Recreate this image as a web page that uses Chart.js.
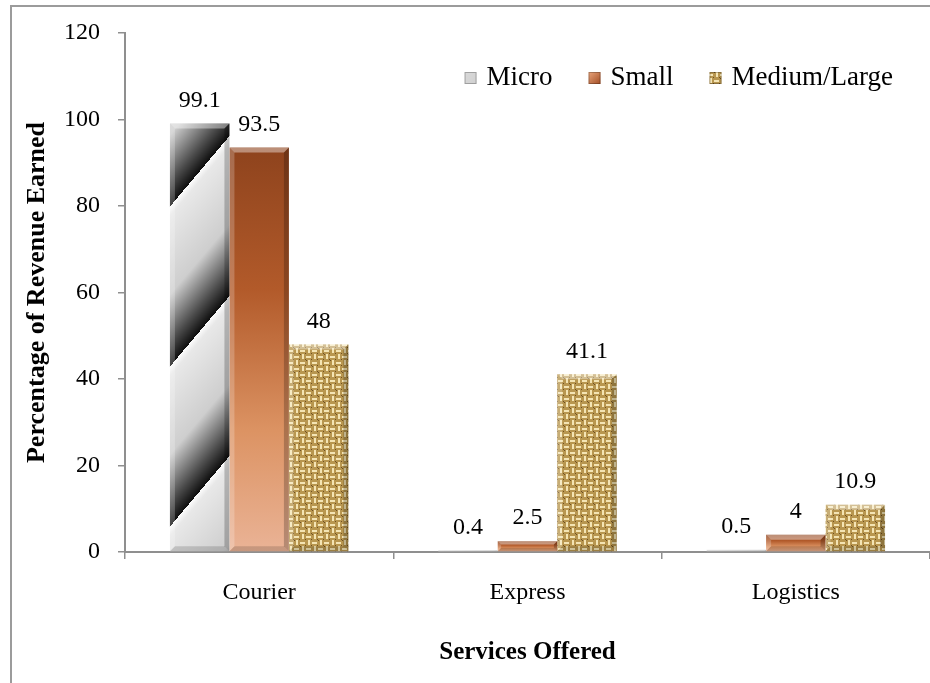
<!DOCTYPE html>
<html>
<head>
<meta charset="utf-8">
<script src="https://cdn.jsdelivr.net/npm/chart.js@4.4.1/dist/chart.umd.min.js"></script>
<style>
html, body { margin: 0; padding: 0; background: #fff; overflow: hidden; }
#wrap { position: relative; width: 930px; height: 683px; overflow: hidden; }
#frame { position: absolute; left: 10px; top: 5px; width: 960px; height: 720px;
         border-left: 2px solid #9b9b9b; border-top: 2px solid #9b9b9b; pointer-events: none; }
canvas { position: absolute; left: 0; top: 0; }
</style>
</head>
<body>
<div id="wrap">
    <canvas id="chart" width="930" height="683"></canvas>
    <div id="frame"></div>
</div>
<script>
// data
const categories = ["Courier", "Express", "Logistics"];
const seriesNames = ["Micro", "Small", "Medium/Large"];
const microValues = [99.1, 0.4, 0.5];
const smallValues = [93.5, 2.5, 4];
const mediumLargeValues = [48, 41.1, 10.9];
const yTicks = [0, 20, 40, 60, 80, 100, 120];

const serif = "'Liberation Serif', 'Times New Roman', serif";

// =============================
// fills
// =============================
function makeMicroPattern(ctx) {
    const W = 135, H = 160;
    const c = document.createElement("canvas");
    c.width = W; c.height = H;
    const g = c.getContext("2d");
    const img = g.createImageData(W, H);
    for (let y = 0; y < H; y++) {
        for (let x = 0; x < W; x++) {
            const t = (x / W + y / H + 0.457) % 1;
            let v;
            if (t < 0.06) v = 252 - t / 0.06 * 20;
            else if (t < 0.55) v = 232 - (t - 0.06) / 0.49 * 26;
            else if (t < 0.85) v = 206 - (t - 0.55) / 0.3 * 130;
            else v = 76 - (t - 0.85) / 0.15 * 62;
            const i = (y * W + x) * 4;
            img.data[i] = v; img.data[i + 1] = v; img.data[i + 2] = v; img.data[i + 3] = 255;
        }
    }
    g.putImageData(img, 0, 0);
    return ctx.createPattern(c, "repeat");
}

function makeWeavePattern(ctx) {
    const S = 24, cell = 6;
    const c = document.createElement("canvas");
    c.width = S; c.height = S;
    const g = c.getContext("2d");
    g.fillStyle = "#b8964f";
    g.fillRect(0, 0, S, S);
    for (let i = 0; i < S / cell; i++) {
        for (let j = 0; j < S / cell; j++) {
            const x0 = i * cell, y0 = j * cell;
            g.fillStyle = "#f4e4b4";
            if ((i + j) % 2 === 0) g.fillRect(x0, y0 + 2, cell - 1, 2);
            else g.fillRect(x0 + 2, y0, 2, cell - 1);
            g.fillStyle = "#6f5024";
            g.fillRect(x0 + cell - 1, y0 + cell - 1, 1, 1);
            if ((i * 3 + j) % 4 === 1) g.fillRect(x0, y0, 1, 1);
        }
    }
    return ctx.createPattern(c, "repeat");
}

const canvas = document.getElementById("chart");
const microFill = makeMicroPattern(canvas.getContext("2d"));
const weaveFill = makeWeavePattern(canvas.getContext("2d"));

function smallFill(context) {
    const chart = context.chart;
    if (!chart.chartArea || context.raw === undefined) return "#c46a3a";
    const y = chart.scales.y;
    const top = y.getPixelForValue(context.raw);
    const base = y.getPixelForValue(0);
    const g = chart.ctx.createLinearGradient(0, top, 0, base);
    g.addColorStop(0, "#8e431d");
    g.addColorStop(0.35, "#b25a2a");
    g.addColorStop(0.7, "#dc9363");
    g.addColorStop(1, "#eab396");
    return g;
}

// =============================
// plugins
// =============================
const bevelPlugin = {
    id: "bevel",
    afterDatasetsDraw(chart) {
        const ctx = chart.ctx;
        chart.data.datasets.forEach((ds, i) => {
            chart.getDatasetMeta(i).data.forEach(bar => {
                const { x, y, base, width } = bar.getProps(["x", "y", "base", "width"], true);
                const l = x - width / 2, r = x + width / 2, h = base - y;
                if (h < 1) return;
                const b = Math.min(5, h / 3);
                const quad = (pts, fill) => {
                    ctx.beginPath();
                    ctx.moveTo(pts[0][0], pts[0][1]);
                    for (let k = 1; k < pts.length; k++) ctx.lineTo(pts[k][0], pts[k][1]);
                    ctx.closePath();
                    ctx.fillStyle = fill;
                    ctx.fill();
                };
                ctx.save();
                quad([[l, y], [r, y], [r - b, y + b], [l + b, y + b]], "rgba(255,255,255,0.4)");
                quad([[l, y], [l + b, y + b], [l + b, base - b], [l, base]], "rgba(255,255,255,0.22)");
                quad([[r, y], [r - b, y + b], [r - b, base - b], [r, base]], "rgba(0,0,0,0.22)");
                quad([[l, base], [l + b, base - b], [r - b, base - b], [r, base]], "rgba(0,0,0,0.15)");
                ctx.restore();
            });
        });
    }
};

const valueLabels = {
    id: "valueLabels",
    afterDatasetsDraw(chart) {
        const ctx = chart.ctx;
        ctx.save();
        ctx.font = "24px " + serif;
        ctx.fillStyle = "#000";
        ctx.textAlign = "center";
        ctx.textBaseline = "middle";
        chart.data.datasets.forEach((ds, i) => {
            chart.getDatasetMeta(i).data.forEach((bar, j) => {
                ctx.fillText(String(ds.data[j]), bar.x, bar.y - 23);
            });
        });
        ctx.restore();
    }
};

const cornerLegend = {
    id: "cornerLegend",
    afterDraw(chart) {
        const ctx = chart.ctx;
        const area = chart.chartArea;
        const box = 12, gapText = 10, gapItem = 36;
        ctx.save();
        ctx.font = "27px " + serif;
        const widths = seriesNames.map(n => ctx.measureText(n).width);
        let total = 0;
        widths.forEach(w => total += box + gapText + w);
        total += gapItem * (seriesNames.length - 1);
        let x = area.right - 37 - total;
        const yc = area.top + 45;
        const swatches = [microFill, null, weaveFill];
        seriesNames.forEach((name, i) => {
            let fill = swatches[i];
            if (!fill) {
                fill = ctx.createLinearGradient(x, yc - box / 2, x + box, yc + box / 2);
                fill.addColorStop(0, "#e9a57c");
                fill.addColorStop(1, "#a24d24");
            }
            ctx.fillStyle = fill;
            ctx.fillRect(x, yc - box / 2, box, box);
            ctx.strokeStyle = "rgba(0,0,0,0.25)";
            ctx.lineWidth = 1;
            ctx.strokeRect(x + 0.5, yc - box / 2 + 0.5, box - 1, box - 1);
            ctx.fillStyle = "#000";
            ctx.textAlign = "left";
            ctx.textBaseline = "middle";
            ctx.fillText(name, x + box + gapText, yc);
            x += box + gapText + widths[i] + gapItem;
        });
        ctx.restore();
    }
};

// =============================
// chart
// =============================
const axisGray = "#8f8f8f";

new Chart(canvas, {
    type: "bar",
    data: {
        labels: categories,
        datasets: [
            { label: seriesNames[0], data: microValues, backgroundColor: microFill, borderWidth: 0 },
            { label: seriesNames[1], data: smallValues, backgroundColor: smallFill, borderWidth: 0 },
            { label: seriesNames[2], data: mediumLargeValues, backgroundColor: weaveFill, borderWidth: 0 }
        ]
    },
    options: {
        responsive: false,
        animation: false,
        categoryPercentage: 0.665,
        barPercentage: 1,
        layout: { padding: { left: 0, right: 0, top: 33, bottom: 0 } },
        plugins: {
            legend: { display: false },
            tooltip: { enabled: false }
        },
        scales: {
            x: {
                grid: { drawOnChartArea: false, tickLength: 7, color: axisGray, lineWidth: 1.5, offset: true },
                border: { color: axisGray, width: 2 },
                ticks: { font: { family: serif, size: 24 }, color: "#000", padding: 19 },
                title: {
                    display: true,
                    text: "Services Offered",
                    color: "#000",
                    font: { family: serif, size: 25, weight: "bold" },
                    padding: { top: 0, bottom: 15 }
                },
                afterFit(scale) { scale.height = 131; }
            },
            y: {
                min: yTicks[0],
                max: yTicks[yTicks.length - 1],
                afterBuildTicks(scale) { scale.ticks = yTicks.map(v => ({ value: v })); },
                grid: { drawOnChartArea: false, tickLength: 7, color: axisGray, lineWidth: 1.5 },
                border: { color: axisGray, width: 2 },
                ticks: { font: { family: serif, size: 24 }, color: "#000", padding: 18 },
                title: {
                    display: true,
                    text: "Percentage of Revenue Earned",
                    color: "#000",
                    font: { family: serif, size: 26, weight: "bold" },
                    padding: { top: 22, bottom: 0 }
                },
                afterFit(scale) { scale.width = 125; }
            }
        }
    },
    plugins: [bevelPlugin, valueLabels, cornerLegend]
});
</script>
</body>
</html>
